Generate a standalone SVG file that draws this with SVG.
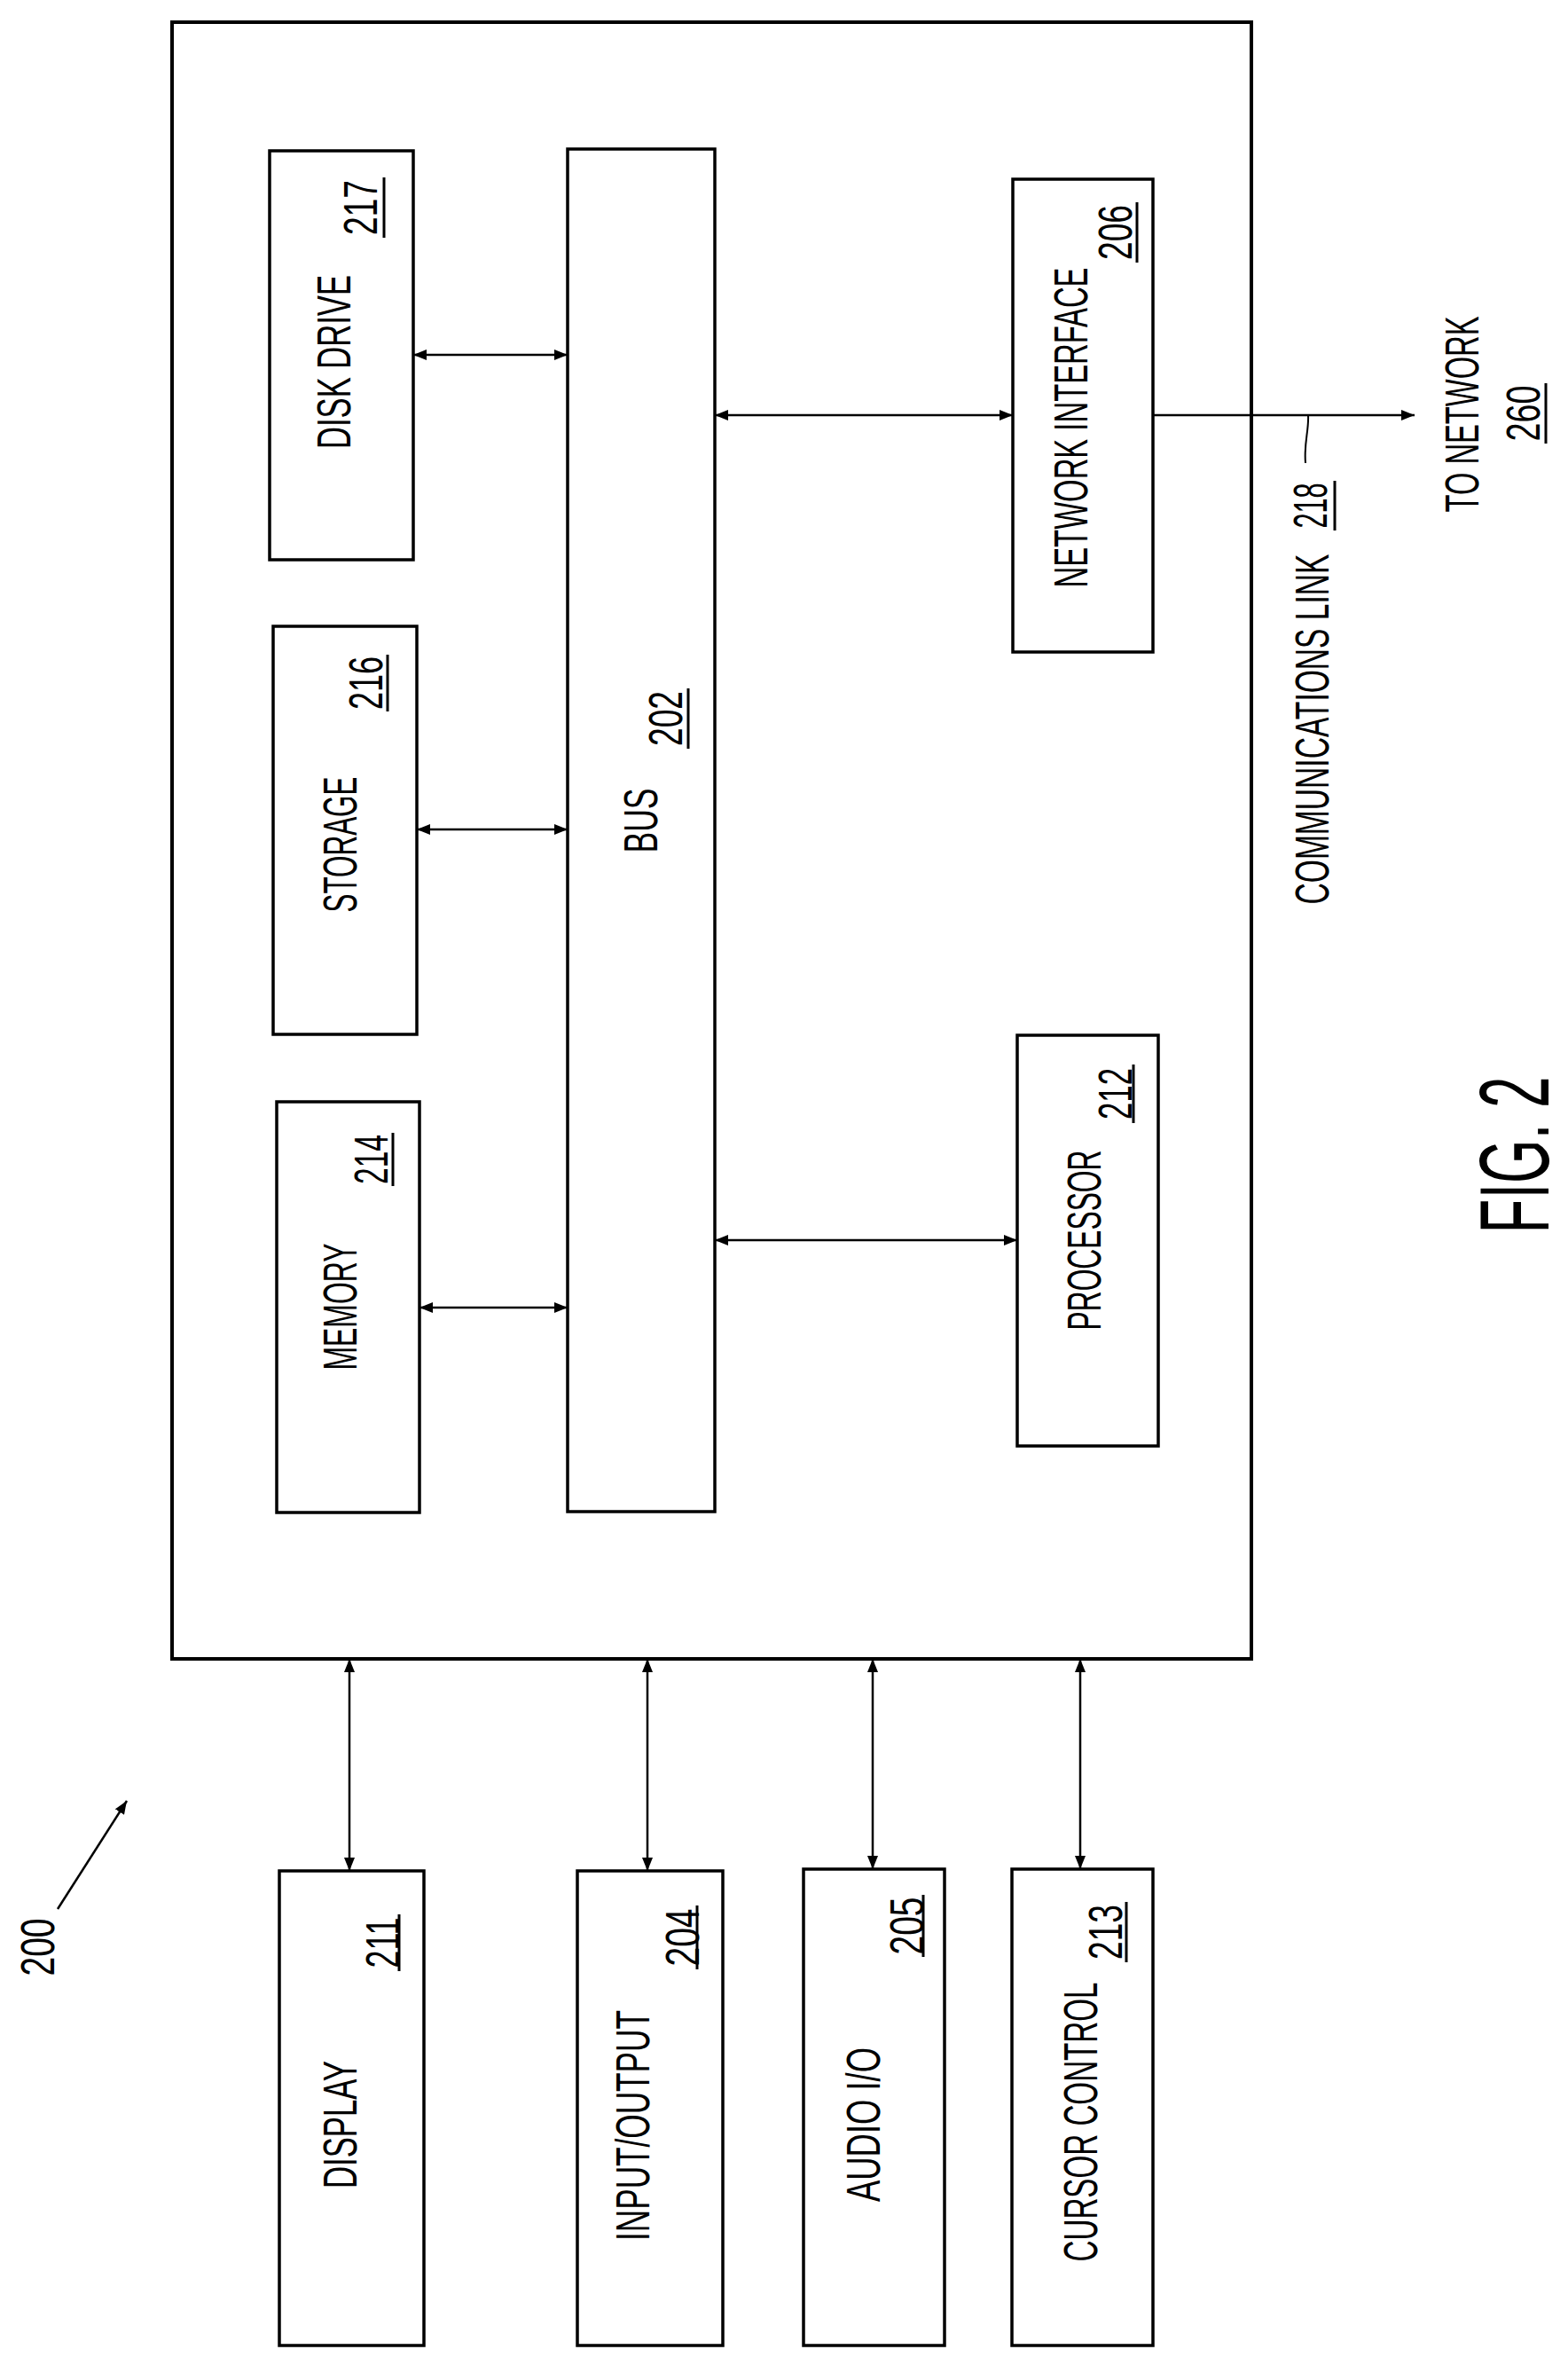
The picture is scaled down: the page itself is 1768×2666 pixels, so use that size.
<svg xmlns="http://www.w3.org/2000/svg" width="1768" height="2666" viewBox="0 0 1768 2666">
<style>
.b{fill:none;stroke:#000;stroke-width:3.5}
.c{fill:none;stroke:#000;stroke-width:2.5;marker-start:url(#a);marker-end:url(#a)}
.t{font-family:"Liberation Sans",Arial,sans-serif;font-size:54px;fill:#000;text-anchor:middle;dominant-baseline:central}
.u{stroke:#000;stroke-width:3}
</style>
<defs>
<marker id="a" viewBox="0 0 10 8" refX="10" refY="4" markerWidth="6" markerHeight="4.8" orient="auto-start-reverse" markerUnits="strokeWidth"><path d="M0,0L10,4L0,8z" fill="#000"/></marker>
</defs>
<rect width="1768" height="2666" fill="#fff"/>
<g id="system"><rect class="b" x="194" y="25" width="1217" height="1845" style="stroke-width:4"/></g>
<g id="disk"><rect class="b" x="304" y="170" width="162" height="461"/>
<text class="t" transform="translate(376,408) rotate(-90)" textLength="196" lengthAdjust="spacingAndGlyphs">DISK DRIVE</text>
<text class="t" transform="translate(406,234) rotate(-90)" textLength="62" lengthAdjust="spacingAndGlyphs">217</text>
<line class="u" x1="433" y1="200" x2="433" y2="268"/></g>
<g id="storage"><rect class="b" x="308" y="706" width="162" height="460"/>
<text class="t" transform="translate(383,952) rotate(-90)" textLength="153" lengthAdjust="spacingAndGlyphs">STORAGE</text>
<text class="t" transform="translate(412,770) rotate(-90)" textLength="60" lengthAdjust="spacingAndGlyphs">216</text>
<line class="u" x1="437" y1="738" x2="437" y2="802"/></g>
<g id="memory"><rect class="b" x="312" y="1242" width="161" height="463"/>
<text class="t" transform="translate(383,1473) rotate(-90)" textLength="143" lengthAdjust="spacingAndGlyphs">MEMORY</text>
<text class="t" transform="translate(418,1307) rotate(-90)" textLength="56" lengthAdjust="spacingAndGlyphs">214</text>
<line class="u" x1="443" y1="1277" x2="443" y2="1337"/></g>
<g id="bus"><rect class="b" x="640" y="168" width="166" height="1536"/>
<text class="t" transform="translate(722,925) rotate(-90)" textLength="73" lengthAdjust="spacingAndGlyphs">BUS</text>
<text class="t" transform="translate(750,810) rotate(-90)" textLength="62" lengthAdjust="spacingAndGlyphs">202</text>
<line class="u" x1="776" y1="776" x2="776" y2="844"/></g>
<g id="network"><rect class="b" x="1142" y="202" width="158" height="533"/>
<text class="t" transform="translate(1207,482) rotate(-90)" textLength="361" lengthAdjust="spacingAndGlyphs">NETWORK INTERFACE</text>
<text class="t" transform="translate(1257,262) rotate(-90)" textLength="62" lengthAdjust="spacingAndGlyphs">206</text>
<line class="u" x1="1282" y1="228" x2="1282" y2="296"/></g>
<g id="processor"><rect class="b" x="1147" y="1167" width="159" height="463"/>
<text class="t" transform="translate(1222,1398) rotate(-90)" textLength="203" lengthAdjust="spacingAndGlyphs">PROCESSOR</text>
<text class="t" transform="translate(1257,1233) rotate(-90)" textLength="58" lengthAdjust="spacingAndGlyphs">212</text>
<line class="u" x1="1278" y1="1200" x2="1278" y2="1266"/></g>
<g id="display"><rect class="b" x="315" y="2109" width="163" height="535"/>
<text class="t" transform="translate(383,2395) rotate(-90)" textLength="144" lengthAdjust="spacingAndGlyphs">DISPLAY</text>
<text class="t" transform="translate(431,2190) rotate(-90)" textLength="57" lengthAdjust="spacingAndGlyphs">211</text>
<line class="u" x1="450" y1="2158" x2="450" y2="2222"/></g>
<g id="io"><rect class="b" x="651" y="2109" width="164" height="535"/>
<text class="t" transform="translate(713,2396) rotate(-90)" textLength="260" lengthAdjust="spacingAndGlyphs">INPUT/OUTPUT</text>
<text class="t" transform="translate(769,2184) rotate(-90)" textLength="65" lengthAdjust="spacingAndGlyphs">204</text>
<line class="u" x1="786" y1="2148" x2="786" y2="2220"/></g>
<g id="audio"><rect class="b" x="906" y="2107" width="159" height="537"/>
<text class="t" transform="translate(973,2395) rotate(-90)" textLength="174" lengthAdjust="spacingAndGlyphs">AUDIO I/O</text>
<text class="t" transform="translate(1022,2171) rotate(-90)" textLength="65" lengthAdjust="spacingAndGlyphs">205</text>
<line class="u" x1="1041" y1="2136" x2="1041" y2="2206"/></g>
<g id="cursor"><rect class="b" x="1141" y="2107" width="159" height="537"/>
<text class="t" transform="translate(1218,2392) rotate(-90)" textLength="315" lengthAdjust="spacingAndGlyphs">CURSOR CONTROL</text>
<text class="t" transform="translate(1246,2178) rotate(-90)" textLength="62" lengthAdjust="spacingAndGlyphs">213</text>
<line class="u" x1="1270" y1="2144" x2="1270" y2="2212"/></g>
<g id="tonetwork">
<text class="t" transform="translate(1648,467) rotate(-90)" textLength="221" lengthAdjust="spacingAndGlyphs">TO NETWORK</text>
<text class="t" transform="translate(1717,466) rotate(-90)" textLength="63" lengthAdjust="spacingAndGlyphs">260</text>
<line class="u" x1="1743" y1="432" x2="1743" y2="500"/></g>
<g id="commlink">
<text class="t" transform="translate(1479,822) rotate(-90)" textLength="395" lengthAdjust="spacingAndGlyphs">COMMUNICATIONS LINK</text>
<text class="t" transform="translate(1477,570) rotate(-90)" textLength="51" lengthAdjust="spacingAndGlyphs">218</text>
<line class="u" x1="1505" y1="542" x2="1505" y2="598"/></g>
<g id="fig"><text class="t" transform="translate(1707,1302) rotate(-90)" style="font-size:112px" textLength="177" lengthAdjust="spacingAndGlyphs">FIG. 2</text></g>
<g id="ref200"><text class="t" transform="translate(42,2195) rotate(-90)" textLength="65" lengthAdjust="spacingAndGlyphs">200</text></g>
<g id="connectors">
<line class="c" x1="466" y1="400" x2="640" y2="400"/>
<line class="c" x1="470" y1="935" x2="640" y2="935"/>
<line class="c" x1="473" y1="1474" x2="640" y2="1474"/>
<line class="c" x1="806" y1="468" x2="1142" y2="468"/>
<line class="c" x1="806" y1="1398" x2="1147" y2="1398"/>
<line x1="1300" y1="468" x2="1595" y2="468" style="stroke:#000;stroke-width:2.5;marker-end:url(#a)"/>
<path d="M1475,468 C1476,485 1470,500 1472,522" fill="none" stroke="#000" stroke-width="2"/>
<line class="c" x1="394" y1="1870" x2="394" y2="2109"/>
<line class="c" x1="730" y1="1870" x2="730" y2="2109"/>
<line class="c" x1="984" y1="1870" x2="984" y2="2107"/>
<line class="c" x1="1218" y1="1870" x2="1218" y2="2107"/>
<line x1="65" y1="2152" x2="143" y2="2030" style="stroke:#000;stroke-width:2.5;marker-end:url(#a)"/>
</g>
</svg>
